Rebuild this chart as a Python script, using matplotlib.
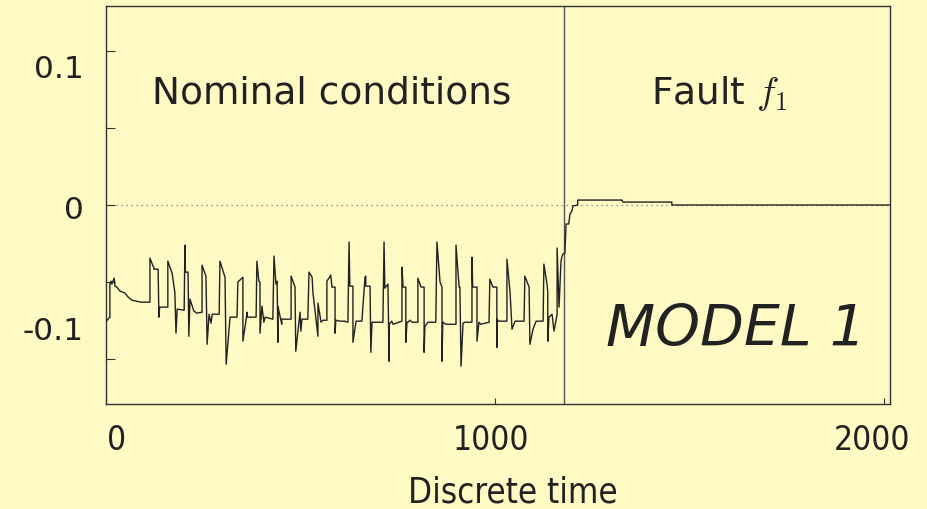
import matplotlib
matplotlib.use("Agg")
import matplotlib.pyplot as plt
import numpy as np

plt.rcParams['mathtext.fontset'] = 'cm'

# ---- data ----
time = [0, 10, 10, 13, 15, 21, 23, 28, 36, 49, 57, 67, 90, 113, 113, 121, 123, 123, 134, 136, 138, 159,
        159, 170, 177, 180, 183, 201, 203, 203, 211, 213, 216, 226, 234, 247, 247, 257, 260, 265, 270, 273,
        291, 293, 306, 309, 319, 337, 339, 352, 352, 363, 363, 386, 388, 393, 396, 396, 401, 406, 409, 429,
        432, 437, 440, 442, 442, 452, 452, 476, 476, 486, 488, 499, 501, 504, 519, 522, 530, 532, 545, 545,
        553, 558, 568, 568, 578, 581, 589, 589, 591, 602, 614, 622, 625, 627, 635, 635, 643, 658, 666, 668,
        668, 679, 681, 684, 712, 715, 717, 725, 728, 728, 735, 738, 761, 761, 764, 771, 771, 774, 776, 782,
        787, 802, 802, 810, 818, 818, 820, 828, 848, 851, 859, 864, 864, 866, 874, 900, 900, 908, 910, 913,
        918, 923, 941, 941, 943, 954, 954, 959, 964, 985, 987, 995, 1005, 1005, 1005, 1010, 1031, 1031, 1039,
        1044, 1052, 1075, 1077, 1088, 1090, 1098, 1106, 1124, 1126, 1134, 1136, 1136, 1139, 1147, 1152, 1160,
        1160, 1165, 1170, 1172, 1175, 1180, 1183, 1190, 1193, 1198, 1201, 1213, 1213, 1327, 1329, 1455, 1455,
        2016]
residual = [-0.0755, -0.0727, -0.0506, -0.0494, -0.0513, -0.0474, -0.0526, -0.0532, -0.0558, -0.0571,
            -0.0597, -0.0617, -0.063, -0.063, -0.0344, -0.0396, -0.0403, -0.0416, -0.0416, -0.0727, -0.0662,
            -0.0662, -0.0364, -0.0442, -0.0565, -0.0831, -0.0675, -0.0682, -0.026, -0.0435, -0.0435, -0.0851,
            -0.061, -0.0688, -0.0701, -0.0695, -0.039, -0.0461, -0.0903, -0.0708, -0.0766, -0.0708, -0.0708,
            -0.0364, -0.0468, -0.1032, -0.0727, -0.0727, -0.05, -0.0468, -0.0883, -0.0695, -0.0727, -0.0727,
            -0.0364, -0.0494, -0.05, -0.0831, -0.0656, -0.076, -0.0727, -0.074, -0.0331, -0.0513, -0.0494,
            -0.089, -0.0656, -0.0773, -0.074, -0.074, -0.0461, -0.0532, -0.0948, -0.0695, -0.0818, -0.074,
            -0.074, -0.0435, -0.0468, -0.0565, -0.0851, -0.0636, -0.076, -0.0747, -0.0747, -0.0494, -0.0455,
            -0.0532, -0.0532, -0.0831, -0.0747, -0.0753, -0.0753, -0.076, -0.024, -0.0526, -0.0526, -0.089,
            -0.0753, -0.0753, -0.0468, -0.0461, -0.0526, -0.0526, -0.0955, -0.076, -0.076, -0.024, -0.0539,
            -0.0513, -0.1013, -0.0773, -0.0753, -0.0773, -0.0753, -0.0403, -0.0532, -0.0532, -0.089, -0.076,
            -0.076, -0.0747, -0.076, -0.076, -0.0474, -0.0532, -0.0532, -0.0955, -0.0786, -0.076, -0.076,
            -0.024, -0.05, -0.0532, -0.1013, -0.076, -0.0773, -0.0773, -0.026, -0.0532, -0.0532, -0.1045,
            -0.0766, -0.076, -0.076, -0.0338, -0.0532, -0.0532, -0.0883, -0.076, -0.0773, -0.076, -0.0481,
            -0.0532, -0.0532, -0.0922, -0.074, -0.0753, -0.0753, -0.0351, -0.0565, -0.0805, -0.0753, -0.0753,
            -0.0461, -0.0532, -0.0903, -0.0805, -0.0753, -0.0753, -0.0383, -0.0513, -0.0565, -0.0883, -0.0727,
            -0.0708, -0.0818, -0.0708, -0.0279, -0.0662, -0.0364, -0.0338, -0.0318, -0.0312, -0.0123, -0.0123,
            -0.0058, -0.0039, -0.0006, 0.0, 0.0032, 0.0032, 0.0019, 0.0019, 0.0, 0.0]
fault_time = 1178
x_tick_marks = [0, 1000, 2000]
x_tick_labels = ['0', '1000', '2000']
x_label_pos = [26, 990, 1970]
y_tick_marks = [-0.1, -0.05, 0.0, 0.05, 0.1]
y_tick_labels = ['-0.1', '0', '0.1']
y_label_pos = [-0.0795, -0.001, 0.0904]

bg = '#FFF9C4'
ink = '#222222'

fig = plt.figure(figsize=(9.28, 5.10), dpi=100, facecolor=bg)
ax = fig.add_axes([106/928, 1 - 405/510, (890-106)/928, (405-7)/510], facecolor=bg)

ax.axhline(0, color='#777777', lw=0.9, ls=(0, (1, 3)), zorder=1)
ax.axvline(fault_time, color='#555555', lw=1.0, zorder=2)
ax.plot(time, residual, color=ink, lw=1.0, zorder=3)

ax.set_xlim(0, 2016)
ax.set_ylim(-0.129, 0.129)

# tick marks (minor) and labels (major, zero-length)
ax.set_xticks(x_tick_marks, minor=True)
ax.set_xticks(x_label_pos, labels=x_tick_labels)
ax.set_yticks(y_tick_marks, minor=True)
ax.set_yticks(y_label_pos, labels=y_tick_labels)
ax.tick_params(which='minor', direction='in', color='#333333')
ax.tick_params(axis='y', which='minor', length=6.5, width=0.8)
ax.tick_params(axis='x', which='minor', length=4, width=0.8)
ax.tick_params(which='major', length=0)
ax.tick_params(axis='y', which='major', labelsize=22.5, pad=16, labelcolor=ink)
ax.tick_params(axis='x', which='major', labelsize=24, pad=14, labelcolor=ink)
for lab in ax.get_xticklabels():
    lab.set_fontstretch('condensed')

for s in ax.spines.values():
    s.set_color('#333333')
    s.set_linewidth(1.0)

ax.set_xlabel('Discrete time', fontsize=25, color=ink, fontstretch='condensed')
ax.xaxis.set_label_coords((513-106)/784, -0.178)

ax.text(0.288, 0.782, 'Nominal conditions', transform=ax.transAxes, fontsize=27,
        color=ink, ha='center', va='center')
ax.text(0.782, 0.782, r'Fault $f_1$', transform=ax.transAxes, fontsize=27,
        color=ink, ha='center', va='center')
ax.text(0.803, 0.188, 'MODEL 1', transform=ax.transAxes, fontsize=41,
        color=ink, ha='center', va='center', style='italic')

fig.savefig('out.png', dpi=100, facecolor=bg)
